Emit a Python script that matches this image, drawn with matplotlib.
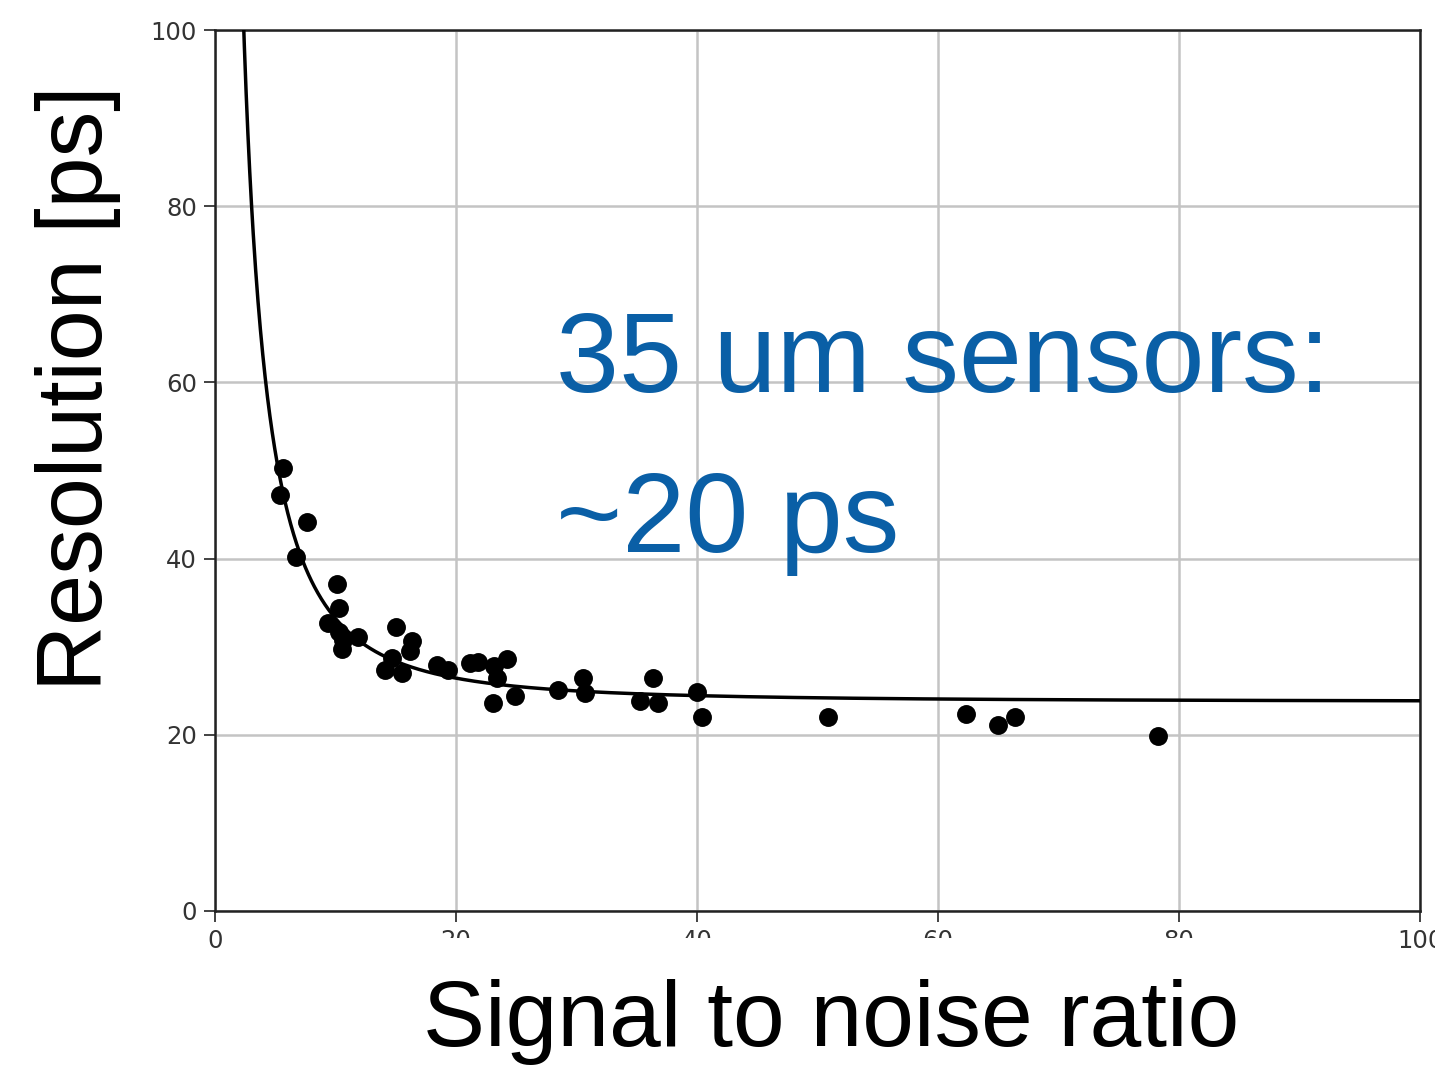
import numpy as np
import matplotlib
matplotlib.use("Agg")
import matplotlib.pyplot as plt
from matplotlib.patches import Rectangle

# measured points (SNR, resolution in ps)
snr = [5.62, 5.39, 7.61, 6.70, 10.10, 10.32, 9.40, 10.29, 10.65, 10.51,
       11.89, 15.02, 16.32, 16.18, 14.66, 14.11, 15.49, 18.40, 19.36, 21.16,
       21.85, 24.21, 23.38, 23.15, 23.10, 24.90, 28.49, 30.56, 30.71, 35.27,
       36.32, 36.79, 39.98, 40.39, 50.90, 62.32, 65.00, 66.39, 78.28]
res = [50.25, 47.22, 44.19, 40.15, 37.12, 34.36, 32.72, 31.70, 30.76, 29.70,
       31.07, 32.20, 30.68, 29.55, 28.68, 27.36, 26.98, 27.92, 27.36, 28.12,
       28.30, 28.57, 26.41, 27.80, 23.58, 24.40, 25.09, 26.41, 24.71, 23.84,
       26.41, 23.58, 24.89, 21.99, 22.05, 22.36, 21.11, 22.05, 19.86]

# fit: sigma = sqrt(const^2 + (noise_term/SNR)^2)
fit_const = 23.75
fit_noise = 232.0

xticks = [0, 20, 40, 60, 80, 100]
yticks = [0, 20, 40, 60, 80, 100]

fig = plt.figure(figsize=(14.35, 10.69), dpi=100)
ax = fig.add_axes([215/1435, 1 - 911/1069, 1205/1435, 881/1069])

xs = np.linspace(1.5, 100, 2000)
ax.plot(xs, np.sqrt(fit_const**2 + (fit_noise/xs)**2), color="black", lw=2.5, zorder=3)
ax.scatter(snr, res, s=185, color="black", zorder=4, linewidths=0)

ax.set_xlim(0, 100)
ax.set_ylim(0, 100)
ax.set_xticks(xticks)
ax.set_yticks(yticks)
ax.tick_params(labelsize=17.5, length=8, width=1.2, colors="#222222",
               labelcolor="#333333", pad=5)
ax.grid(True, color="#c4c4c4", lw=1.8)
ax.set_axisbelow(True)
for sp in ax.spines.values():
    sp.set_linewidth(1.8)
    sp.set_color("#222222")

# slide covered the lower half of the x tick labels
fig.patches.append(Rectangle((240/1435, 0), 1160/1435, 1 - 938/1069,
                             transform=fig.transFigure, facecolor="white",
                             edgecolor="none", zorder=5))

fig.text(831/1435, 1 - 1022/1069, "Signal to noise ratio", fontsize=67,
         family="Liberation Sans", ha="center", va="center", zorder=10)
fig.text(78/1435, 1 - 388/1069, "Resolution [ps]", fontsize=66,
         family="Liberation Sans", ha="center", va="center", rotation=90, zorder=10)

fig.text(556/1435, 1 - 392/1069, "35 um sensors:", fontsize=81.5,
         family="Liberation Sans", color="#0a5fa6", ha="left", va="baseline", zorder=10)
fig.text(556/1435, 1 - 552/1069, "~20 ps", fontsize=81.5,
         family="Liberation Sans", color="#0a5fa6", ha="left", va="baseline", zorder=10)

fig.savefig("out.png", dpi=100)
